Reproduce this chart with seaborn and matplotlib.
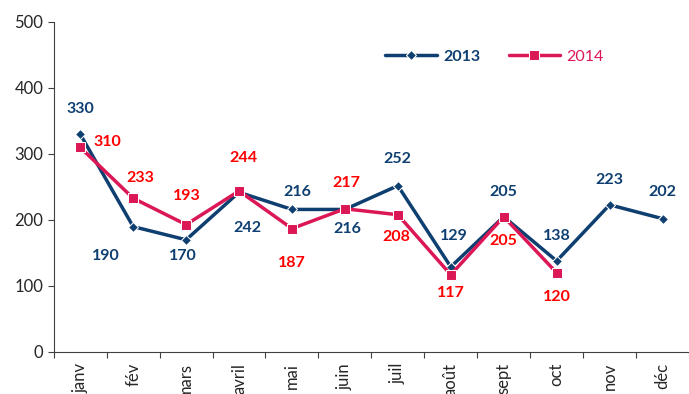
import matplotlib
matplotlib.use("Agg")
import matplotlib.pyplot as plt
import seaborn as sns
import pandas as pd

months = ["janv", "fév", "mars", "avril", "mai", "juin", "juil", "août",
          "sept", "oct", "nov", "déc"]
values_2013 = [330, 190, 170, 242, 216, 216, 252, 129, 205, 138, 223, 202]
values_2014 = [310, 233, 193, 244, 187, 217, 208, 117, 205, 120]

# label offsets (pixels) relative to each point
off_2013 = [(0, 25), (-27, -29), (-3, -16), (8, -36), (5, 17), (2, -20),
            (0, 27), (3, 31), (0, 25), (0, 25), (0, 25), (0, 27)]
off_2014 = [(27, 5), (7, 20), (1, 29), (4, 33), (0, -34), (1, 26),
            (-2, -22), (0, -18), (0, -24), (0, -24)]

c13 = "#0E3F70"
c14 = "#DC1756"
c14_txt = "#FF0000"

df = pd.concat([
    pd.DataFrame({"mois": months, "x": range(len(values_2013)),
                  "valeur": values_2013, "année": "2013"}),
    pd.DataFrame({"mois": months[:len(values_2014)], "x": range(len(values_2014)),
                  "valeur": values_2014, "année": "2014"}),
])

sns.set_theme(style="ticks")
plt.rcParams["font.family"] = ["Lato", "DejaVu Sans"]

fig = plt.figure(figsize=(6.89, 3.94), dpi=100)
ax = fig.add_axes([0.078, 0.1066, 0.922, 0.8376])

sns.lineplot(data=df, x="x", y="valeur", hue="année", style="année",
             palette={"2013": c13, "2014": c14},
             markers={"2013": "D", "2014": "s"}, dashes=False,
             markersize=6, linewidth=2.5, ax=ax, legend=True)
for line in ax.lines:
    if line.get_marker() == "D":
        line.set_markersize(5)
    elif line.get_marker() == "s":
        line.set_markersize(6.5)

for i, (v, (dx, dy)) in enumerate(zip(values_2013, off_2013)):
    ax.annotate(str(v), (i, v), xytext=(dx, dy), textcoords="offset pixels",
                ha="center", va="center", color=c13, fontsize=11.5, fontweight="bold")
for i, (v, (dx, dy)) in enumerate(zip(values_2014, off_2014)):
    ax.annotate(str(v), (i, v), xytext=(dx, dy), textcoords="offset pixels",
                ha="center", va="center", color=c14_txt, fontsize=11.5, fontweight="bold")

ax.set_ylim(0, 500)
ax.set_yticks(range(0, 501, 100))
ax.set_xlim(-0.5, len(months) - 0.5)
ax.set_xticks(range(len(months)))
ax.set_xticklabels(months, rotation=90, fontsize=12)
ax.set_xticks([i - 0.5 for i in range(len(months) + 1)], minor=True)
ax.tick_params(axis="x", which="major", length=0, pad=8)
ax.tick_params(axis="x", which="minor", length=4, width=0.8, color="#404040")
ax.tick_params(axis="y", labelsize=12, length=4, width=0.8, color="#404040")
ax.set_xlabel("")
ax.set_ylabel("")
for s in ["top", "right"]:
    ax.spines[s].set_visible(False)
for s in ["left", "bottom"]:
    ax.spines[s].set_color("#404040")
    ax.spines[s].set_linewidth(0.8)

handles, labels = ax.get_legend_handles_labels()
leg = ax.legend(handles, labels, ncol=2, frameon=False, loc="center",
                bbox_to_anchor=(0.694, 0.895), fontsize=11.5, handlelength=3.2,
                columnspacing=1.8, handletextpad=0.4)
for txt, col, w in zip(leg.get_texts(), [c13, c14], ["bold", "normal"]):
    txt.set_color(col)
    txt.set_fontweight(w)

fig.savefig("out.png", dpi=100)
